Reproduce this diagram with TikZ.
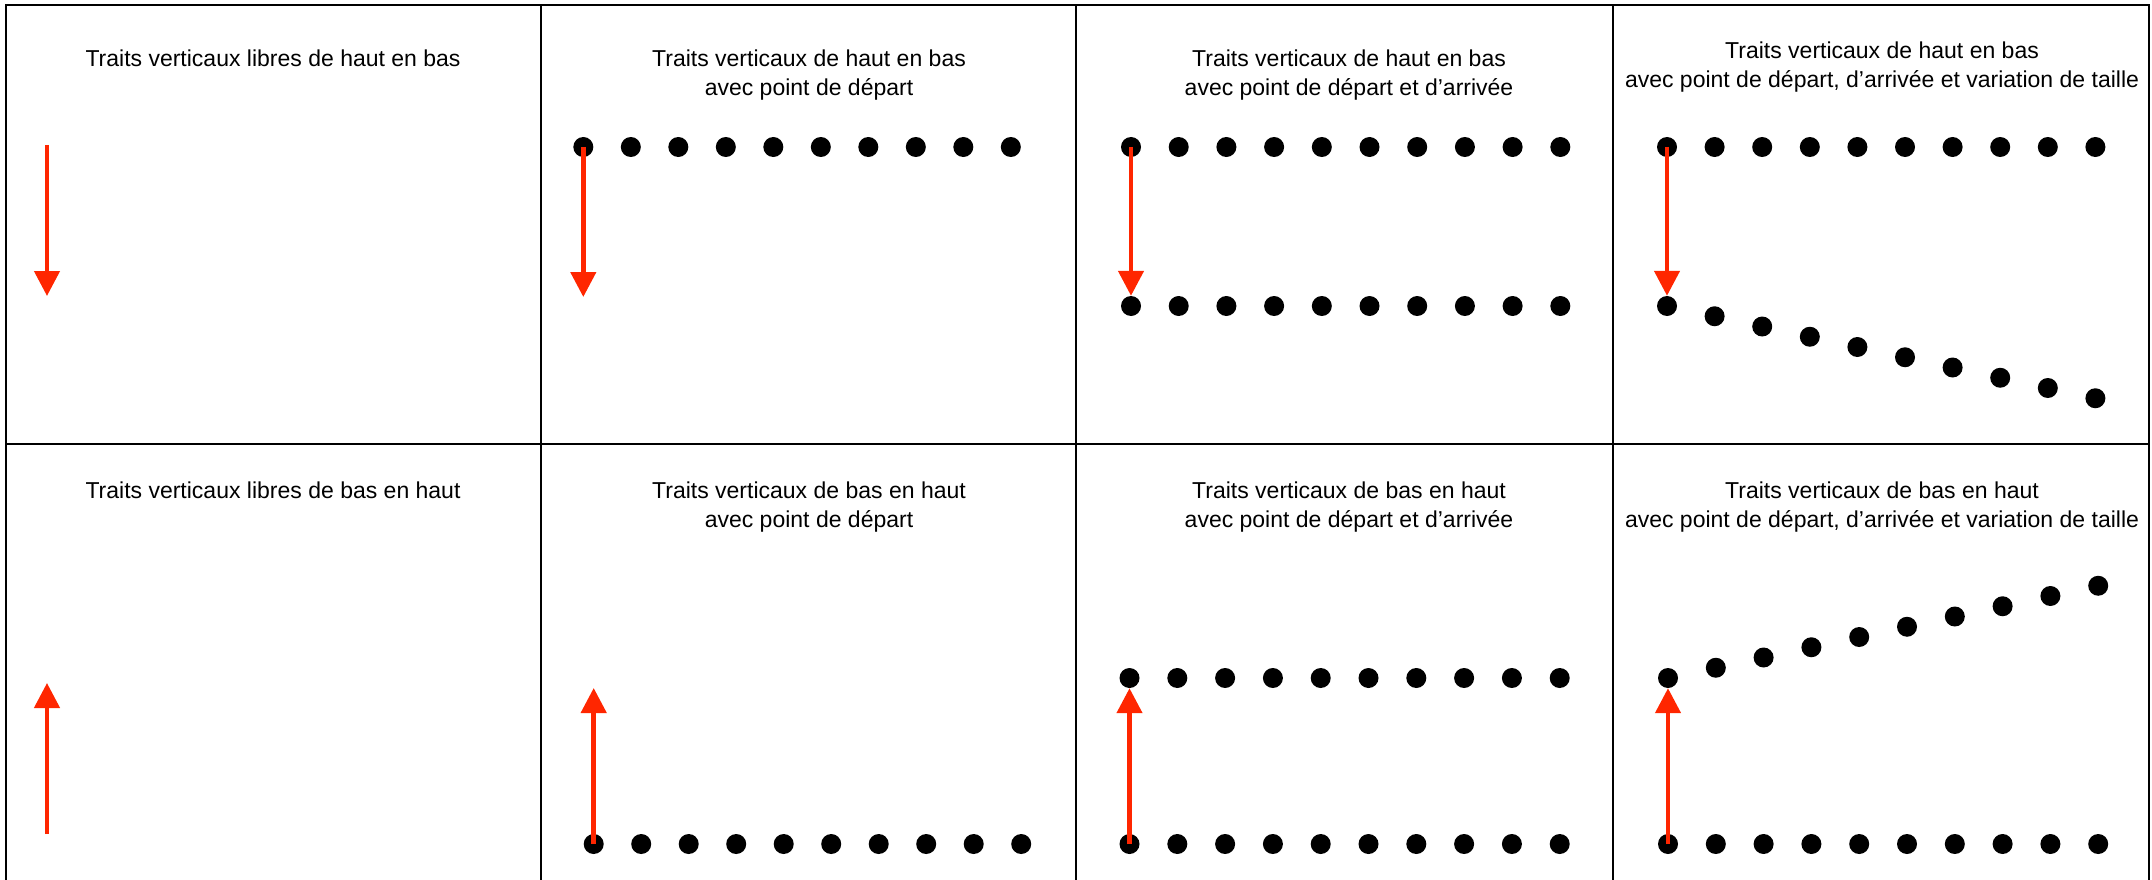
\documentclass[tikz,border=0pt]{standalone}
\usepackage{fontspec}
\setmainfont{Liberation Sans}
\usepackage{xcolor}
\usetikzlibrary{arrows.meta}
\definecolor{traitred}{RGB}{255, 38, 0}

\begin{document}
\begin{tikzpicture}[x=1pt, y=-1pt,
    pastille/.style={circle, fill=black, inner sep=0pt, minimum size=20pt},
    titre/.style={font=\fontsize{23}{29}\selectfont, align=center, anchor=base, inner sep=0pt},
    trait/.style={-{Triangle[length=25pt, width=25pt]}, line width=4.5pt, traitred},
    cadre/.style={line width=2pt}]

\useasboundingbox (0,0) rectangle (2152,880);

%% ── GRID ─────────────────────────────────────────────────────────────────────
\draw[cadre] (5.5,880) -- (5.5,5) -- (2149,5) -- (2149,880);
\draw[cadre] (5.5,444) -- (2149,444);
\foreach \x in {541,1076,1613}
  \draw[cadre] (\x,5) -- (\x,880);

%% ── TOP ROW: de haut en bas ──────────────────────────────────────────────────
% (base of a two-line title = baseline of its last line)
\node[titre] (tA) at (273,66.5) {Traits verticaux libres de haut en bas};
\node[titre] (tB) at (809,95.5) {Traits verticaux de haut en bas\\avec point de départ};
\node[titre] (tC) at (1349,95.5)
  {Traits verticaux de haut en bas\\avec point de départ et d’arrivée};
\node[titre] (tD) at (1882,87.5)
  {Traits verticaux de haut en bas\\avec point de départ, d’arrivée et variation de taille};

% free stroke
\coordinate (hbA1) at (47,145);
\coordinate (hbA2) at (47,296);
\draw[trait] (hbA1) -- (hbA2);

% start points only
\foreach \i in {1,...,10}
  \node[pastille] (hbB\i) at ({583.3+47.5*(\i-1)},147) {};
\coordinate (hbBfin) at (583.3,297);
\draw[trait] (hbB1.center) -- (hbBfin);

% start and end points
\foreach \i in {1,...,10} {
  \node[pastille] (hbCd\i) at ({1131+47.7*(\i-1)},147) {};
  \node[pastille] (hbCa\i) at ({1131+47.7*(\i-1)},306) {};
}
\draw[trait] (hbCd1.center) -- (hbCa1.north);

% start and end points, growing size
\foreach \i in {1,...,10} {
  \node[pastille] (hbDd\i) at ({1667+47.6*(\i-1)},147) {};
  \node[pastille] (hbDa\i) at ({1667+47.6*(\i-1)},{306+10.25*(\i-1)}) {};
}
\draw[trait] (hbDd1.center) -- (hbDa1.north);

%% ── BOTTOM ROW: de bas en haut ───────────────────────────────────────────────
\node[titre] (bA) at (273,498) {Traits verticaux libres de bas en haut};
\node[titre] (bB) at (809,527) {Traits verticaux de bas en haut\\avec point de départ};
\node[titre] (bC) at (1349,527)
  {Traits verticaux de bas en haut\\avec point de départ et d’arrivée};
\node[titre] (bD) at (1882,527)
  {Traits verticaux de bas en haut\\avec point de départ, d’arrivée et variation de taille};

% free stroke
\coordinate (bhA1) at (47,834);
\coordinate (bhA2) at (47,683);
\draw[trait] (bhA1) -- (bhA2);

% start points only
\foreach \i in {1,...,10}
  \node[pastille] (bhB\i) at ({593.7+47.5*(\i-1)},844) {};
\coordinate (bhBfin) at (593.7,688);
\draw[trait] (bhB1.center) -- (bhBfin);

% start and end points
\foreach \i in {1,...,10} {
  \node[pastille] (bhCd\i) at ({1129.5+47.8*(\i-1)},844) {};
  \node[pastille] (bhCa\i) at ({1129.5+47.8*(\i-1)},678) {};
}
\draw[trait] (bhCd1.center) -- (bhCa1.south);

% start and end points, growing size
\foreach \i in {1,...,10} {
  \node[pastille] (bhDd\i) at ({1668+47.8*(\i-1)},844) {};
  \node[pastille] (bhDa\i) at ({1668+47.8*(\i-1)},{678-10.25*(\i-1)}) {};
}
\draw[trait] (bhDd1.center) -- (bhDa1.south);

\end{tikzpicture}
\end{document}
